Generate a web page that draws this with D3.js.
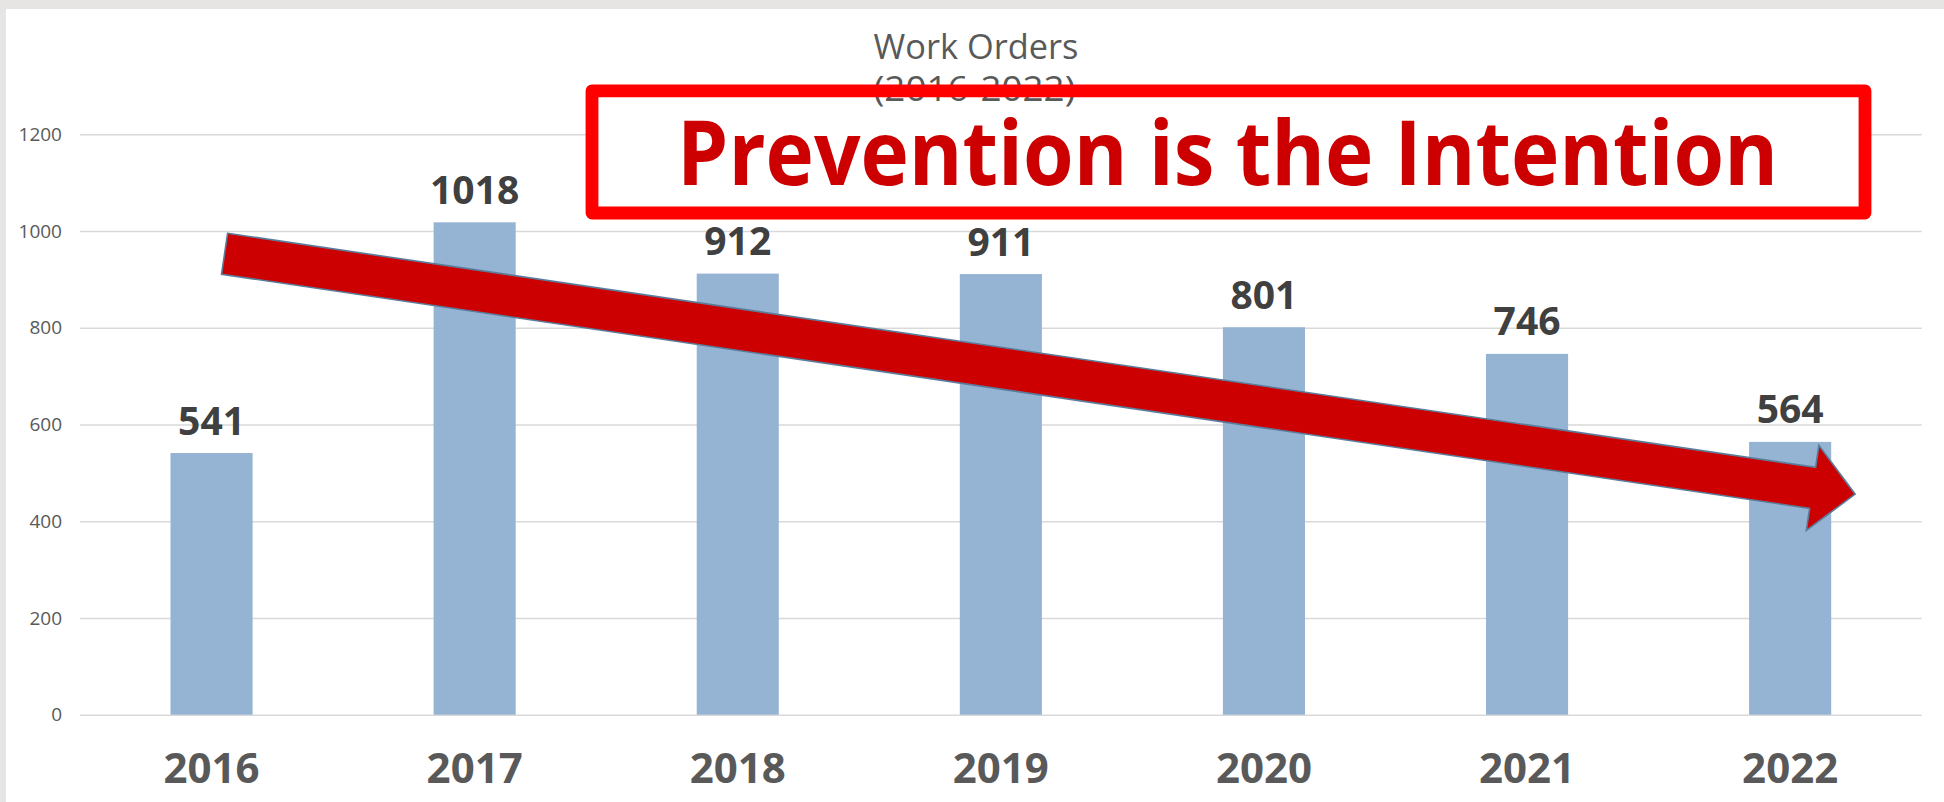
<!DOCTYPE html>
<html lang="en">

<head>
    <meta charset="UTF-8">
    <title>Work Orders (2016-2022)</title>
    <style>
    body {
        margin: 0;
        background: #e6e5e4;
    }

    svg {
        display: block;
        font-family: "Open Sans", "Lato", sans-serif;
    }

    .grid line {
        stroke: #d9d9d9;
        stroke-width: 1.6px;
    }

    .grid text {
        fill: #595959;
        font-size: 19px;
    }

    .year text {
        fill: #595959;
        font-size: 42px;
        font-weight: bold;
    }

    .bar {
        fill: #95b3d2;
    }

    .value_label {
        fill: #404040;
        font-size: 39px;
        font-weight: bold;
    }
    </style>
</head>

<body>
    <svg id="chart" width="1944" height="802"></svg>
    <script src="https://d3js.org/d3.v7.min.js"></script>
    <script type="text/javascript">
    // chart values
    var years = ["2016", "2017", "2018", "2019", "2020", "2021", "2022"];
    var workOrders = [541, 1018, 912, 911, 801, 746, 564];
    var yTicks = [0, 200, 400, 600, 800, 1000, 1200];
    var titleLines = ["Work Orders", "(2016-2022)"];
    var calloutText = "Prevention is the Intention";

    // trend arrow anchors (year + value it points at)
    var trendFrom = { year: "2016", value: 953 };
    var trendTo = { year: "2022", value: 456 };

    var svg = d3.select("#chart"),
        plotLeft = 80,
        plotRight = 1921.7,
        plotTop = 134.3,
        plotBottom = 714.7;

    // white slide area inside the grey frame
    svg.append("rect")
        .attr("x", 6)
        .attr("y", 9)
        .attr("width", 1944 - 6)
        .attr("height", 802 - 9)
        .attr("fill", "#ffffff");

    var x = d3.scaleBand()
        .domain(years)
        .range([plotLeft, plotRight])
        .paddingInner(0.688)
        .paddingOuter(0.344);

    var y = d3.scaleLinear()
        .domain([0, 1200])
        .range([plotBottom, plotTop]);

    var data = years.map(function(d, i) { return { year: d, total: workOrders[i] }; });

    // gridlines + y labels
    var gy = svg.append("g")
        .attr("class", "grid")
        .attr("transform", "translate(" + plotLeft + ",0)")
        .call(d3.axisLeft(y)
            .tickValues(yTicks)
            .tickFormat(d3.format("d"))
            .tickSize(-(plotRight - plotLeft))
            .tickPadding(18));
    gy.attr("font-family", null).attr("font-size", null);
    gy.select(".domain").remove();

    // year labels
    var gx = svg.append("g")
        .attr("class", "year")
        .attr("transform", "translate(0," + plotBottom + ")")
        .call(d3.axisBottom(x).tickSize(0));
    gx.attr("font-family", null).attr("font-size", null);
    gx.select(".domain").remove();
    gx.selectAll("text").attr("dy", 0).attr("y", 68);

    svg.selectAll(".bar")
        .data(data)
        .enter().append("rect")
        .attr("class", "bar")
        .attr("x", function(d) { return x(d.year); })
        .attr("y", function(d) { return y(d.total); })
        .attr("width", x.bandwidth())
        .attr("height", function(d) { return plotBottom - y(d.total); });

    svg.selectAll(".value_label")
        .data(data)
        .enter().append("text")
        .attr("class", "value_label")
        .attr("text-anchor", "middle")
        .attr("x", function(d) { return x(d.year) + x.bandwidth() / 2; })
        .attr("y", function(d) { return y(d.total) - 18.5; })
        .text(function(d) { return d.total; });

    // trend arrow
    var x0 = x(trendFrom.year) + x.bandwidth() / 2 + 13,
        y0 = y(trendFrom.value),
        x1 = x(trendTo.year) + x.bandwidth() / 2 + 65,
        y1 = y(trendTo.value),
        len = Math.hypot(x1 - x0, y1 - y0),
        ang = Math.atan2(y1 - y0, x1 - x0) * 180 / Math.PI,
        hw = 20.7, HW = 43, hl = 43;

    var pts = [
        [0, -hw], [len - hl, -hw], [len - hl, -HW], [len, 0],
        [len - hl, HW], [len - hl, hw], [0, hw]
    ];

    svg.append("path")
        .attr("d", d3.line()(pts) + "Z")
        .attr("transform", "translate(" + x0 + "," + y0 + ") rotate(" + ang + ")")
        .attr("fill", "#cc0000")
        .attr("stroke", "#5b7d9c")
        .attr("stroke-width", 1.6)
        .attr("stroke-linejoin", "miter");

    // callout box: fill, then title text, then red frame on top
    var box = { x: 592, y: 90.8, w: 1273, h: 122.2 };

    svg.append("rect")
        .attr("x", box.x)
        .attr("y", box.y)
        .attr("width", box.w)
        .attr("height", box.h)
        .attr("fill", "#ffffff");

    var titleWidths = [205, 202];
    svg.selectAll(".title")
        .data(titleLines)
        .enter().append("text")
        .attr("class", "title")
        .attr("x", 873.5)
        .attr("y", function(d, i) { return 59.3 + i * 41.7; })
        .attr("fill", "#595959")
        .attr("font-size", "34px")
        .attr("textLength", function(d, i) { return titleWidths[i]; })
        .attr("lengthAdjust", "spacingAndGlyphs")
        .text(function(d) { return d; });

    svg.append("rect")
        .attr("x", box.x)
        .attr("y", box.y)
        .attr("width", box.w)
        .attr("height", box.h)
        .attr("fill", "none")
        .attr("stroke", "#ff0000")
        .attr("stroke-width", 12.8)
        .attr("stroke-linejoin", "round");

    svg.append("text")
        .attr("x", 677)
        .attr("y", 185)
        .attr("fill", "#cc0000")
        .attr("font-size", "90px")
        .attr("font-weight", "bold")
        .attr("textLength", 1101)
        .attr("lengthAdjust", "spacingAndGlyphs")
        .text(calloutText);
    </script>
</body>

</html>
